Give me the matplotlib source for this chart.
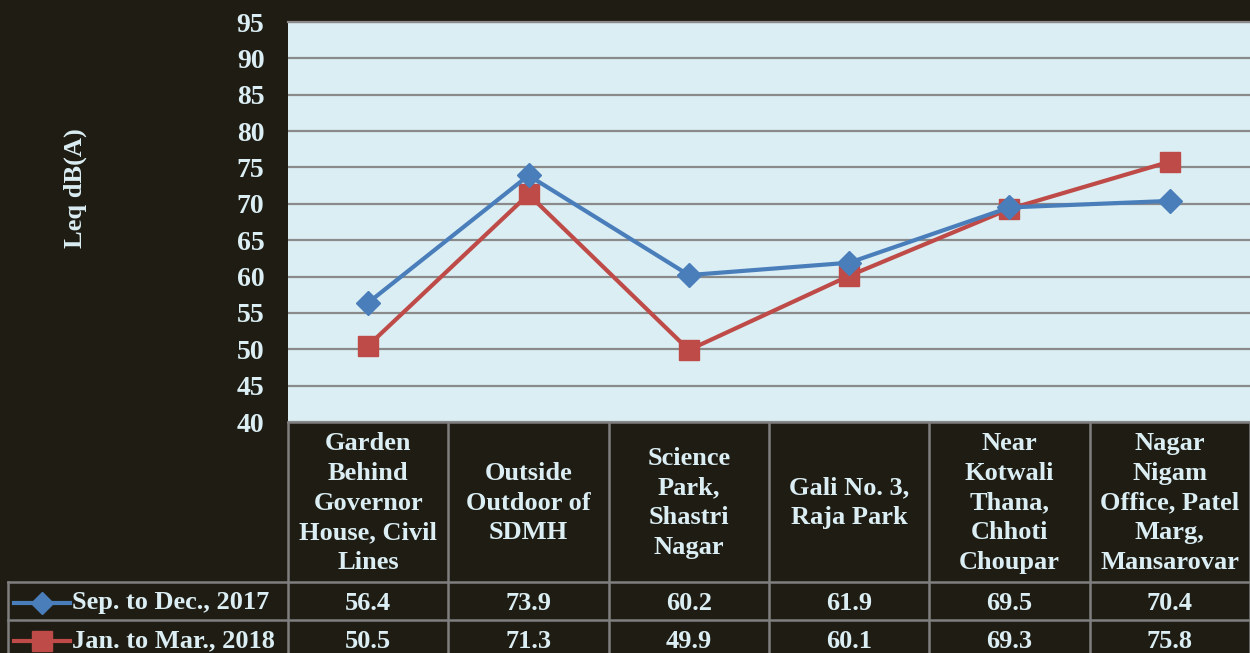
import numpy as np
import matplotlib
matplotlib.use('Agg')
import matplotlib.pyplot as plt

# --- data ---
sites = ['Garden\nBehind\nGovernor\nHouse, Civil\nLines',
         'Outside\nOutdoor of\nSDMH',
         'Science\nPark,\nShastri\nNagar',
         'Gali No. 3,\nRaja Park',
         'Near\nKotwali\nThana,\nChhoti\nChoupar',
         'Nagar\nNigam\nOffice, Patel\nMarg,\nMansarovar']
sep_dec_2017 = [56.4, 73.9, 60.2, 61.9, 69.5, 70.4]
jan_mar_2018 = [50.5, 71.3, 49.9, 60.1, 69.3, 75.8]
series_names = ['Sep. to Dec., 2017', 'Jan. to Mar., 2018']
y_ticks = list(range(40, 100, 5))

# --- style ---
bg = '#1f1c13'
txt = '#dbeef3'
grid_c = '#8a8a8a'
blue = '#4a7ebb'
red = '#be4b48'
plt.rcParams['font.family'] = ['Liberation Serif', 'DejaVu Serif']
plt.rcParams['font.weight'] = 'bold'
fs = 19

W, H = 1250, 653
fig = plt.figure(figsize=(W / 100, H / 100), dpi=100, facecolor=bg)

# pixel geometry of the plot area
x0, x1 = 288, 1250
y_top, y_bot = 22, 422
ax = fig.add_axes([x0 / W, 1 - y_bot / H, (x1 - x0) / W, (y_bot - y_top) / H])
ax.set_facecolor('#dbeef3')

n = len(sites)
xs = np.arange(n)
ax.plot(xs, sep_dec_2017, '-D', color=blue, lw=3, ms=12, zorder=4)
ax.plot(xs, jan_mar_2018, '-s', color=red, lw=3, ms=14, zorder=3)

ax.set_xlim(-0.5, n - 0.5)
ax.set_ylim(40, 95)
ax.set_yticks(y_ticks)
ax.set_yticklabels([str(v) for v in y_ticks], color=txt, fontsize=20, fontweight='bold')
ax.tick_params(axis='y', length=0, pad=17)
ax.set_xticks([])
ax.yaxis.grid(True, color=grid_c, lw=1.6)
ax.set_axisbelow(True)
for s in ax.spines.values():
    s.set_visible(False)
ax.spines['top'].set_visible(True)
ax.spines['top'].set_color(grid_c)
ax.spines['top'].set_linewidth(1.6)

fig.text(75 / W, 1 - 188 / H, 'Leq dB(A)', rotation=90, color=txt, fontsize=fs,
         fontweight='bold', ha='center', va='center')

# --- data table drawn in pixel coordinates ---
tab = fig.add_axes([0, 0, 1, 1], zorder=-1)
tab.set_xlim(0, W)
tab.set_ylim(H, 0)
tab.axis('off')
tab.patch.set_alpha(0)

col_w = (x1 - x0) / n
row_y = [422, 582, 620, 658]
lc = '#7f7f7f'
lw = 1.8
tab.plot([x0, W], [row_y[0], row_y[0]], color=lc, lw=lw)
for yy in row_y[1:3]:
    tab.plot([8, W], [yy, yy], color=lc, lw=lw)
tab.plot([8, 8], [row_y[1], H], color=lc, lw=lw)
for i in range(n + 1):
    xx = x0 + i * col_w
    tab.plot([xx, xx], [row_y[0], H], color=lc, lw=lw)

for i, name in enumerate(sites):
    cx = x0 + (i + 0.5) * col_w
    tab.text(cx, (row_y[0] + row_y[1]) / 2 + 1, name, color=txt, fontsize=fs,
             fontweight='bold', ha='center', va='center', linespacing=1.38)

values = [sep_dec_2017, jan_mar_2018]
markers = ['D', 's']
colors = [blue, red]
msizes = [11, 14]
for r, vals in enumerate(values):
    cy = (row_y[r + 1] + row_y[r + 2]) / 2 + 2
    tab.plot([14, 70], [cy, cy], color=colors[r], lw=3)
    tab.plot([42], [cy], marker=markers[r], color=colors[r], ms=msizes[r])
    tab.text(72, cy, series_names[r], color=txt, fontsize=fs, fontweight='bold',
             ha='left', va='center')
    for i, v in enumerate(vals):
        cx = x0 + (i + 0.5) * col_w
        tab.text(cx, cy, f'{v:.1f}', color=txt, fontsize=fs, fontweight='bold',
                 ha='center', va='center')

fig.savefig('out.png', dpi=100, facecolor=bg)
